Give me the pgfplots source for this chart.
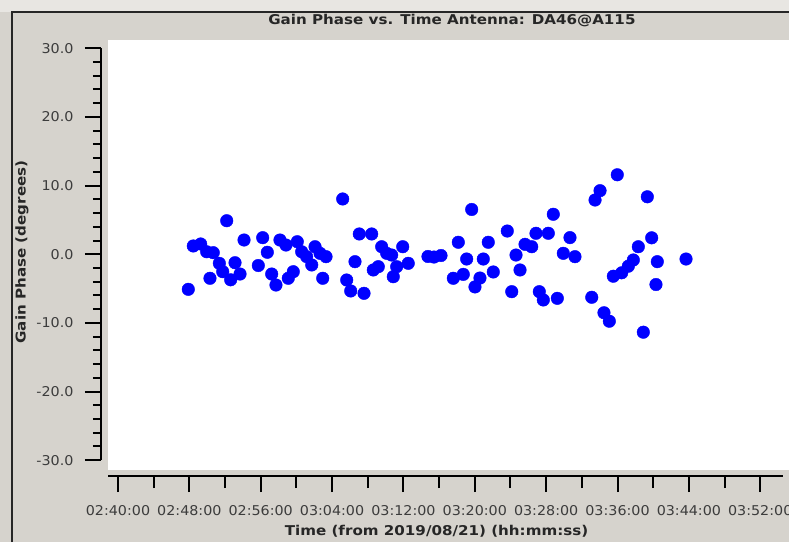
\documentclass[border=0pt]{standalone}
\usepackage{fontspec}
\setmainfont{DejaVu Sans}
\newfontfamily\tickfont[FakeStretch=1.06]{DejaVu Sans}
\newfontfamily\labelfont[FakeStretch=1.12]{DejaVu Sans}
\usepackage{pgfplots}
\pgfplotsset{compat=1.18}
\definecolor{bggray}{RGB}{214,211,205}
\definecolor{topgray}{RGB}{232,230,226}
\definecolor{ticktext}{RGB}{60,60,60}
\begin{document}
\begin{tikzpicture}[x=1pt,y=1pt]
% window background
\fill[bggray] (0,0) rectangle (789,542);
\fill[topgray] (0,530) rectangle (789,542);
\draw[line width=2pt,black!85] (12,0) -- (12,530) -- (789,530);
% data axis (white plotting area)
\begin{axis}[
  at={(108pt,72pt)}, anchor=south west,
  scale only axis, width=681pt, height=430pt,
  xmin=-1.121, xmax=75.224, ymin=-31.487, ymax=31.195,
  axis background/.style={fill=white},
  axis line style={draw=none},
  xtick=\empty, ytick=\empty,
  title={\labelfont\bfseries Gain Phase vs. Time Antenna: DA46@A115},
  title style={at={(axis description cs:0.505,1.0324)}, anchor=center, yshift=0pt, inner sep=1pt, font=\fontsize{13.5}{15}\selectfont, text=black!85},
  clip=false,
]
\addplot[only marks, mark=*, mark size=6.3pt, color=blue, mark options={draw=none, fill=blue}] coordinates {
(7.88,-5.15) (8.44,1.17) (9.27,1.46) (9.94,0.33) (10.68,0.19) (10.31,-3.54)
(11.36,-1.36) (11.74,-2.58) (12.19,4.85) (12.63,-3.76) (13.12,-1.27) (13.68,-2.92)
(14.13,2.04) (15.73,-1.68) (16.22,2.38) (16.74,0.25) (17.23,-2.92) (17.71,-4.52)
(18.16,2.04) (18.83,1.31) (19.09,-3.54) (19.65,-2.58) (20.10,1.79) (20.59,0.33)
(21.15,-0.39) (21.72,-1.60) (22.09,1.06) (22.65,0.10) (22.95,-3.54) (23.32,-0.39)
(25.19,8.02) (25.64,-3.79) (26.09,-5.39) (26.57,-1.12) (27.05,2.92) (27.58,-5.73)
(28.44,2.92) (28.62,-2.33) (29.18,-1.85) (29.56,1.06) (30.12,0.10) (30.68,-0.15)
(30.86,-3.31) (31.24,-1.85) (31.92,1.06) (32.54,-1.36)
(34.75,-0.36) (35.43,-0.44) (36.21,-0.22) (37.59,-3.54) (38.15,1.71) (38.71,-2.97)
(39.09,-0.73) (39.65,6.49) (40.02,-4.80) (40.58,-3.50) (40.95,-0.73) (41.51,1.71)
(42.07,-2.62) (43.64,3.35) (44.14,-5.49) (44.62,-0.15) (45.07,-2.33) (45.63,1.41)
(46.38,1.06) (46.86,3.02) (47.23,-5.49) (47.68,-6.70) (48.24,3.02) (48.80,5.79)
(49.25,-6.46) (49.92,0.10) (50.67,2.39) (51.23,-0.39)
(53.11,-6.31) (53.48,7.87) (54.04,9.23) (54.48,-8.57) (55.08,-9.80) (55.53,-3.24)
(55.97,11.55) (56.47,-2.74) (57.21,-1.78) (57.77,-0.87) (58.33,1.06) (58.89,-11.40)
(59.34,8.34) (59.83,2.36) (60.31,-4.45) (60.46,-1.12) (63.68,-0.73)
};
\end{axis}
% x axis with ticks
\begin{axis}[
  at={(108pt,66pt)}, anchor=south west,
  scale only axis, width=675pt, height=10pt,
  xmin=-1.121, xmax=74.552, ymin=0, ymax=1,
  axis x line*=bottom, axis y line=none,
  axis line style={line width=2pt, black},
  tick align=outside,
  xtick={0,8,16,24,32,40,48,56,64,72},
  xticklabels={02:40:00,02:48:00,02:56:00,03:04:00,03:12:00,03:20:00,03:28:00,03:36:00,03:44:00,03:52:00},
  minor x tick num=1,
  ytick=\empty,
  major tick length=16pt, minor tick length=12pt,
  tick style={line width=2pt, black},
  xticklabel style={font=\tickfont\fontsize{13.5}{15}\selectfont, text=ticktext, yshift=-10pt},
  xlabel={\labelfont\bfseries Time (from 2019/08/21) (hh:mm:ss)},
  xlabel style={at={(axis description cs:0.4867,-5.5)}, anchor=center, yshift=0pt, inner sep=0.5pt, font=\fontsize{13.5}{15}\selectfont, text=black!85},
]
\addplot[draw=none] coordinates {(0,0)};
\end{axis}
% y axis with ticks
\begin{axis}[
  at={(101pt,81.8pt)}, anchor=south west,
  scale only axis, width=10pt, height=411.9pt,
  xmin=0, xmax=1, ymin=-30, ymax=30,
  axis y line*=left, axis x line=none,
  axis line style={line width=2pt, black},
  tick align=outside,
  ytick={-30,-20,-10,0,10,20,30},
  yticklabels={-30.0,-20.0,-10.0,0.0,10.0,20.0,30.0},
  minor y tick num=4,
  xtick=\empty,
  major tick length=16pt, minor tick length=8pt,
  tick style={line width=2pt, black},
  yticklabel style={font=\tickfont\fontsize{13.5}{15}\selectfont, text=ticktext, anchor=east, xshift=-8pt},
  ylabel={\labelfont\bfseries Gain Phase (degrees)},
  ylabel style={at={(axis description cs:-7.9,0.5055)}, anchor=center, xshift=0pt, inner sep=1pt, font=\fontsize{13.5}{15}\selectfont, text=black!85},
]
\addplot[draw=none] coordinates {(0,0)};
\end{axis}
\pgfresetboundingbox
\useasboundingbox (0,0) rectangle (789,542);
\end{tikzpicture}
\end{document}
